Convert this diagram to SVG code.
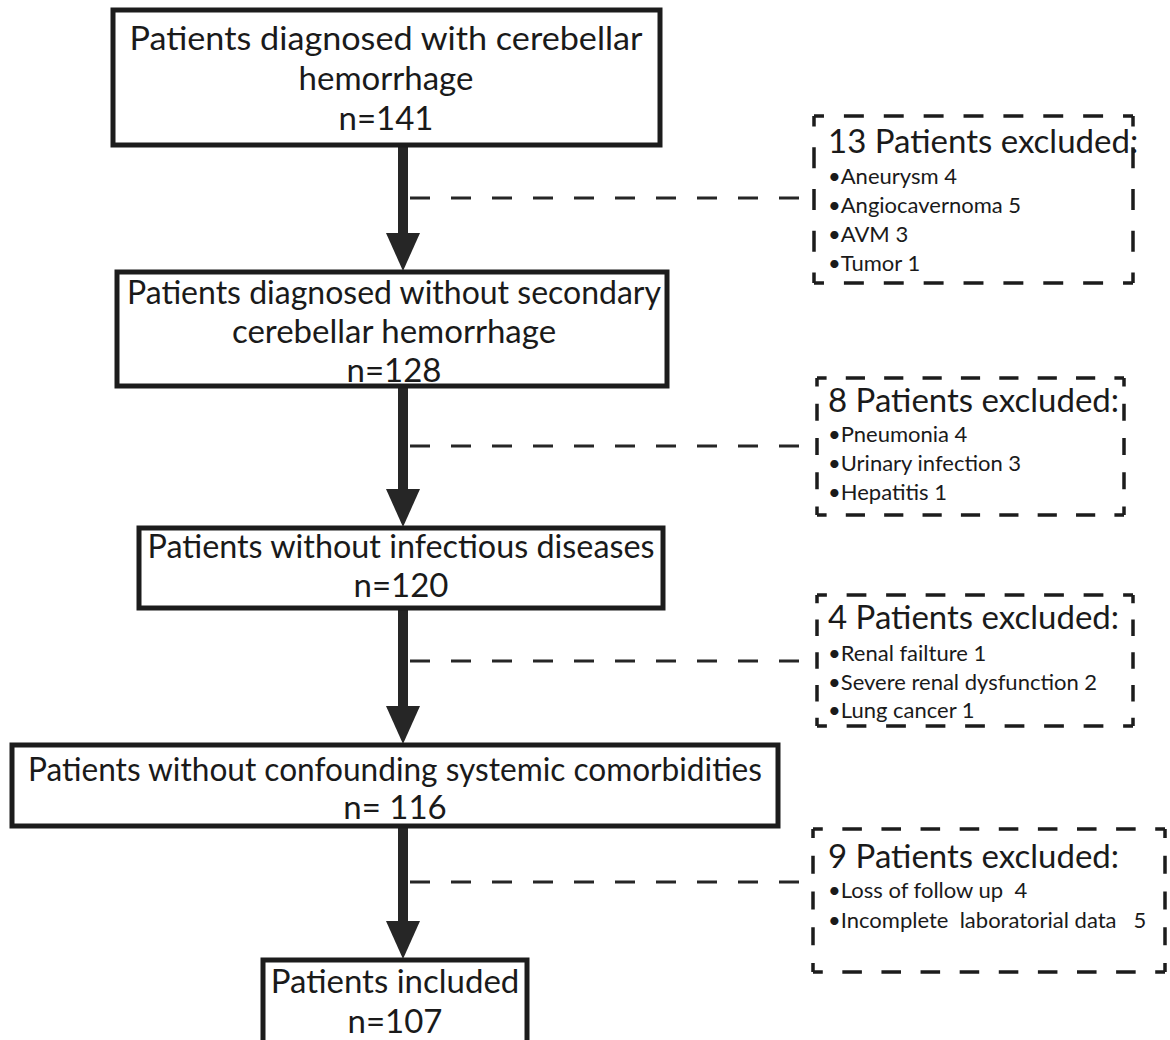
<svg xmlns="http://www.w3.org/2000/svg" width="1170" height="1040" viewBox="0 0 1170 1040">
<style>
.box{fill:#fff;stroke:#1c1c1c;stroke-width:5}
.dl{stroke:#1c1c1c;stroke-width:3.5;stroke-dasharray:20 20;stroke-dashoffset:10;fill:none}
.t{font-family:Lato,"Liberation Sans",sans-serif;font-size:33px;fill:#1a1a1a;text-anchor:middle}
.h{font-family:Lato,"Liberation Sans",sans-serif;font-size:33px;fill:#1a1a1a}
.b{font-family:Lato,"Liberation Sans",sans-serif;font-size:22px;fill:#1a1a1a}
.shaft{stroke:#262626;stroke-width:10;fill:none}
.head{fill:#262626}
.dash{stroke:#262626;stroke-width:3;stroke-dasharray:20 21;fill:none}
</style>
<rect width="1170" height="1040" fill="#fff"/>
<g id="connectors">
<line class="shaft" x1="403" y1="145" x2="403" y2="236"/>
<polygon class="head" points="386,233 420,233 403,271"/>
<line class="shaft" x1="403" y1="386" x2="403" y2="492"/>
<polygon class="head" points="386,489 420,489 403,527"/>
<line class="shaft" x1="403" y1="608" x2="403" y2="709"/>
<polygon class="head" points="386,706 420,706 403,744"/>
<line class="shaft" x1="403" y1="826" x2="403" y2="924"/>
<polygon class="head" points="386,921 420,921 403,959"/>
<line class="dash" x1="410" y1="198" x2="814" y2="198"/>
<line class="dash" x1="410" y1="446" x2="817" y2="446"/>
<line class="dash" x1="410" y1="661" x2="817" y2="661"/>
<line class="dash" x1="410" y1="882" x2="813" y2="882"/>
</g>
<g id="n1">
<rect class="box" x="113" y="10" width="547" height="135"/>
<text class="t" x="386" y="50" textLength="513" lengthAdjust="spacingAndGlyphs">Patients diagnosed with cerebellar</text>
<text class="t" x="386" y="90">hemorrhage</text>
<text class="t" x="386" y="130">n=141</text>
</g>
<g id="n2">
<rect class="box" x="117" y="272" width="550" height="114"/>
<text class="t" x="394" y="304" textLength="534" lengthAdjust="spacingAndGlyphs">Patients diagnosed without secondary</text>
<text class="t" x="394" y="343">cerebellar hemorrhage</text>
<text class="t" x="394" y="382">n=128</text>
</g>
<g id="n3">
<rect class="box" x="139" y="528" width="524" height="80"/>
<text class="t" x="401" y="558" textLength="507" lengthAdjust="spacingAndGlyphs">Patients without infectious diseases</text>
<text class="t" x="401" y="597">n=120</text>
</g>
<g id="n4">
<rect class="box" x="12" y="745" width="766" height="81"/>
<text class="t" x="395" y="781" textLength="734" lengthAdjust="spacingAndGlyphs">Patients without confounding systemic comorbidities</text>
<text class="t" x="395" y="819">n= 116</text>
</g>
<g id="n5">
<rect class="box" x="263" y="960" width="264" height="90"/>
<text class="t" x="395" y="993">Patients included</text>
<text class="t" x="395" y="1033">n=107</text>
</g>
<g id="e1">
<line class="dl" x1="814" y1="116" x2="1133" y2="116" pathLength="320"/>
<line class="dl" x1="1133" y1="116" x2="1133" y2="283" pathLength="160"/>
<line class="dl" x1="1133" y1="283" x2="814" y2="283" pathLength="320"/>
<line class="dl" x1="814" y1="283" x2="814" y2="116" pathLength="160"/>
<text class="h" x="828" y="153">13 Patients excluded:</text>
<text class="b" x="828" y="184">•Aneurysm 4</text>
<text class="b" x="828" y="213">•Angiocavernoma 5</text>
<text class="b" x="828" y="242">•AVM 3</text>
<text class="b" x="828" y="271">•Tumor 1</text>
</g>
<g id="e2">
<line class="dl" x1="817" y1="378" x2="1124" y2="378" pathLength="320"/>
<line class="dl" x1="1124" y1="378" x2="1124" y2="515" pathLength="160"/>
<line class="dl" x1="1124" y1="515" x2="817" y2="515" pathLength="320"/>
<line class="dl" x1="817" y1="515" x2="817" y2="378" pathLength="160"/>
<text class="h" x="828" y="412">8 Patients excluded:</text>
<text class="b" x="828" y="442">•Pneumonia 4</text>
<text class="b" x="828" y="471">•Urinary infection 3</text>
<text class="b" x="828" y="500">•Hepatitis 1</text>
</g>
<g id="e3">
<line class="dl" x1="817" y1="595" x2="1133" y2="595" pathLength="320"/>
<line class="dl" x1="1133" y1="595" x2="1133" y2="726" pathLength="160"/>
<line class="dl" x1="1133" y1="726" x2="817" y2="726" pathLength="320"/>
<line class="dl" x1="817" y1="726" x2="817" y2="595" pathLength="160"/>
<text class="h" x="828" y="629">4 Patients excluded:</text>
<text class="b" x="828" y="661">•Renal failture 1</text>
<text class="b" x="828" y="690">•Severe renal dysfunction 2</text>
<text class="b" x="828" y="718">•Lung cancer 1</text>
</g>
<g id="e4">
<line class="dl" x1="813" y1="829" x2="1165" y2="829" pathLength="360"/>
<line class="dl" x1="1165" y1="829" x2="1165" y2="972" pathLength="160"/>
<line class="dl" x1="1165" y1="972" x2="813" y2="972" pathLength="360"/>
<line class="dl" x1="813" y1="972" x2="813" y2="829" pathLength="160"/>
<text class="h" x="828" y="868">9 Patients excluded:</text>
<text class="b" x="828" y="898" xml:space="preserve">•Loss of follow up  4</text>
<text class="b" x="828" y="928" xml:space="preserve">•Incomplete  laboratorial data   5</text>
</g>
</svg>
